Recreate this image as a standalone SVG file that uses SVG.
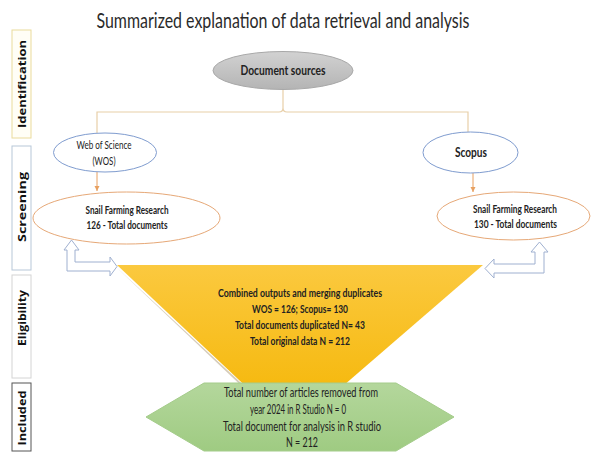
<svg xmlns="http://www.w3.org/2000/svg" width="593" height="452" viewBox="0 0 593 452">
<defs>
<linearGradient id="gY" x1="0" y1="0" x2="0" y2="1"><stop offset="0" stop-color="#fbc93f"/><stop offset="1" stop-color="#f4b400"/></linearGradient>
<linearGradient id="gG" x1="0" y1="0" x2="0" y2="1"><stop offset="0" stop-color="#b4d79c"/><stop offset="1" stop-color="#9fcb82"/></linearGradient>
<linearGradient id="gD" x1="0" y1="0" x2="0" y2="1"><stop offset="0" stop-color="#d2d2d2"/><stop offset="1" stop-color="#b4b4b4"/></linearGradient>
<marker id="ar" markerWidth="6" markerHeight="6" refX="5" refY="3" orient="auto" markerUnits="userSpaceOnUse"><path d="M0,0.5 L5,3 L0,5.5 z" fill="#e8a060"/></marker>
<style>
.t{font-family:Lato,"Liberation Sans",sans-serif;fill:#222;text-anchor:middle}
.b{font-weight:bold}
.side{font-family:"Open Sans","DejaVu Sans",sans-serif;font-weight:bold;font-size:11px;fill:#111;text-anchor:middle}
.blue{fill:#fff;stroke:#7f9ccf;stroke-width:1}
.orng{fill:#fff;stroke:#e6a877;stroke-width:1}
.harrow{fill:#fff;stroke:#9fb0d0;stroke-width:1}
.conn{fill:none;stroke:#e8cfa8;stroke-width:1.2}
.oarr{stroke:#e8a060;stroke-width:1;marker-end:url(#ar)}
</style>
</defs>
<rect width="593" height="452" fill="#fff"/>
<text x="283" y="28" class="t" style="font-size:21px;fill:#2a2a2a" textLength="373" lengthAdjust="spacingAndGlyphs">Summarized explanation of data retrieval and analysis</text>

<g id="stage-identification"><rect x="12" y="30" width="19" height="108" fill="#fffef6" stroke="#eadb9c"/><text class="side" transform="translate(25.5,84) rotate(-90)" textLength="88" lengthAdjust="spacingAndGlyphs">Identification</text></g>
<g id="stage-screening"><rect x="12" y="146" width="19" height="124" fill="#fff" stroke="#b7c7d8"/><text class="side" transform="translate(25.5,207) rotate(-90)" textLength="70" lengthAdjust="spacingAndGlyphs">Screening</text></g>
<g id="stage-eligibility"><rect x="12" y="275" width="19" height="103" fill="#fff" stroke="#d4d4d4"/><text class="side" transform="translate(25.5,318) rotate(-90)" textLength="56" lengthAdjust="spacingAndGlyphs">Eligibility</text></g>
<g id="stage-included"><rect x="12" y="383" width="19" height="68" fill="#fff" stroke="#555"/><text class="side" transform="translate(25.5,418) rotate(-90)" textLength="55" lengthAdjust="spacingAndGlyphs">Included</text></g>

<g id="connectors">
<path class="conn" d="M283,89 V108 Q283,112 279,112 H97 V133 M283,108 Q283,112 287,112 H468 V132"/>
<line class="oarr" x1="97" y1="172" x2="97" y2="191"/>
<line class="oarr" x1="473" y1="173" x2="473" y2="192"/>
<path class="harrow" d="M67,271 V250 H64 L71.5,240 L79,250 H75 V262 H110 V257 L117,266.5 L110,276 V271 Z"/>
<path class="harrow" d="M544,273 V252 H548 L539.5,242 L531,252 H535 V264 H494 V259 L485,268.5 L494,278 V273 Z"/>
</g>

<g id="document-sources"><ellipse cx="283" cy="70.5" rx="70" ry="19" fill="url(#gD)" stroke="#a8a8a8"/><text x="283" y="75" class="t b" style="font-size:13px" textLength="85" lengthAdjust="spacingAndGlyphs">Document sources</text></g>

<g id="wos"><ellipse cx="105" cy="152.5" rx="51.5" ry="19.5" class="blue"/><text x="104" y="149" class="t" style="font-size:11px" textLength="55" lengthAdjust="spacingAndGlyphs">Web of Science</text><text x="104" y="165" class="t" style="font-size:11px" textLength="23" lengthAdjust="spacingAndGlyphs">(WOS)</text></g>

<g id="scopus"><ellipse cx="470.5" cy="152.5" rx="47.5" ry="20.5" class="blue"/><text x="471" y="157" class="t b" style="font-size:13px" textLength="32" lengthAdjust="spacingAndGlyphs">Scopus</text></g>

<g id="wos-results"><ellipse cx="126.5" cy="218" rx="93.5" ry="26" class="orng"/><text x="127" y="214" class="t b" style="font-size:11px" textLength="83" lengthAdjust="spacingAndGlyphs">Snail Farming Research</text><text x="127" y="229" class="t b" style="font-size:11px" textLength="81" lengthAdjust="spacingAndGlyphs">126 - Total documents</text></g>

<g id="scopus-results"><ellipse cx="513.5" cy="216" rx="76.5" ry="24" class="orng"/><text x="515" y="213" class="t b" style="font-size:11px" textLength="84" lengthAdjust="spacingAndGlyphs">Snail Farming Research</text><text x="515.5" y="228" class="t b" style="font-size:11px" textLength="83" lengthAdjust="spacingAndGlyphs">130  - Total documents</text></g>

<g id="combined">
<path d="M115,266 L290,432 L292,430 Z" fill="#b9a98a" opacity="0.6"/>
<path d="M117,265 H483 L292,430 Z" fill="url(#gY)"/>
<text x="300" y="297" class="t b" style="font-size:12px" textLength="164" lengthAdjust="spacingAndGlyphs">Combined outputs and merging duplicates</text>
<text x="300" y="313" class="t b" style="font-size:12px" textLength="96" lengthAdjust="spacingAndGlyphs">WOS = 126; Scopus= 130</text>
<text x="300" y="329" class="t b" style="font-size:12px" textLength="130" lengthAdjust="spacingAndGlyphs">Total documents duplicated N= 43</text>
<text x="300" y="345" class="t b" style="font-size:12px" textLength="100" lengthAdjust="spacingAndGlyphs">Total original data N = 212</text>
</g>

<g id="included">
<path d="M146,417 L204,383 H396 L454,417 L396,451 H204 Z" fill="url(#gG)" stroke="#a4cc8a" stroke-width="1"/>
<text x="301" y="397" class="t" style="font-size:13px" textLength="154" lengthAdjust="spacingAndGlyphs">Total number of articles removed from</text>
<text x="298" y="414" class="t" style="font-size:13px" textLength="96" lengthAdjust="spacingAndGlyphs">year 2024 in R Studio N = 0</text>
<text x="302" y="431" class="t" style="font-size:13px" textLength="158" lengthAdjust="spacingAndGlyphs">Total document for analysis in R studio</text>
<text x="302" y="447" class="t" style="font-size:13px" textLength="32" lengthAdjust="spacingAndGlyphs">N = 212</text>
</g>
</svg>
